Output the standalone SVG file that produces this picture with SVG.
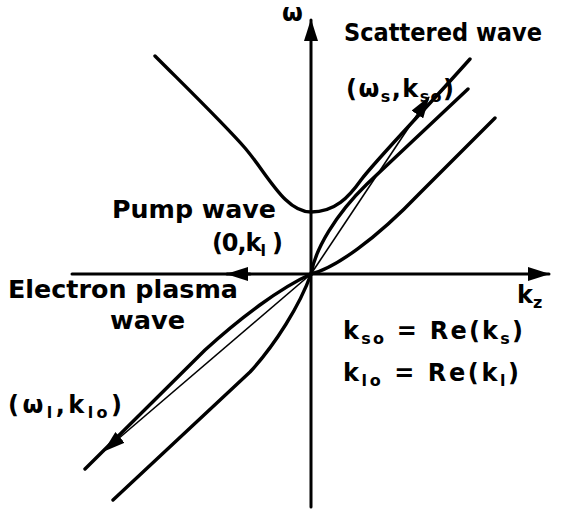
<svg xmlns="http://www.w3.org/2000/svg" width="570" height="510" viewBox="0 0 570 510">
<defs>
<style>
.ax{stroke:#000;stroke-width:3;fill:none;stroke-linecap:round}
.cv{stroke:#000;stroke-width:3.4;fill:none;stroke-linecap:round;stroke-linejoin:round}
.th{stroke:#000;stroke-width:1.6;fill:none}
text{font-family:"DejaVu Sans","Liberation Sans",Arial,sans-serif;font-weight:bold;fill:#000;font-size:24px}
.sub{font-size:16px}
</style>
<marker id="ah" viewBox="0 0 22 14" refX="21" refY="7" markerWidth="22" markerHeight="14" orient="auto" markerUnits="userSpaceOnUse">
<path d="M0,0 L22,7 L0,14 Z" fill="#000"/>
</marker>
</defs>
<rect width="570" height="510" fill="#fff"/>
<g id="axes">
<path class="ax" d="M311,507 L311,20" marker-end="url(#ah)"/>
<path class="ax" d="M72,274 L549,274" marker-end="url(#ah)"/>
</g>
<g id="curves">
<path id="scattered-wave" class="cv" d="M155,56 C190,91 225,125 245,148 C268,175 285,212 311,212 C335,212 349,197 361,180 C376,160 420,115 470,59"/>
<path id="branch-upper-1" class="cv" d="M311,274 C315,250 335,215 367,184 L468,89"/>
<path id="branch-upper-2" class="cv" d="M311,274 C335,268 375,240 420,193 L495,118"/>
<path id="branch-lower-A" class="cv" d="M311,274 C280,288 240,318 205,350 L85,469"/>
<path id="branch-lower-B" class="cv" d="M311,274 C300,305 275,345 250,372 L113,500"/>
</g>
<g id="connectors">
<path id="pump-arrow" class="ax" d="M250,274 L227,274" marker-end="url(#ah)"/>
<path id="vec-s" class="th" d="M311,274 L429,97" marker-end="url(#ah)"/>
<path id="vec-l" class="th" d="M311,274 L104,451" marker-end="url(#ah)"/>
</g>
<g id="labels">
<text x="282" y="21" font-size="23">ω</text>
<text x="344" y="41" textLength="198" lengthAdjust="spacingAndGlyphs">Scattered wave</text>
<text x="346" y="97" textLength="108">(ω<tspan class="sub" dy="5">s</tspan><tspan dy="-5">,k</tspan><tspan class="sub" dy="5">so</tspan><tspan dy="-5">)</tspan></text>
<text x="112" y="218" textLength="164" lengthAdjust="spacingAndGlyphs">Pump wave</text>
<text x="212" y="251" textLength="71">(0,k<tspan class="sub" dy="5">l</tspan><tspan dy="-5"> )</tspan></text>
<text x="8" y="298" textLength="230" lengthAdjust="spacingAndGlyphs">Electron plasma</text>
<text x="110" y="329" textLength="75" lengthAdjust="spacingAndGlyphs">wave</text>
<text x="8" y="413" textLength="114">(ω<tspan class="sub" dy="5">l</tspan><tspan dy="-5">,k</tspan><tspan class="sub" dy="5">lo</tspan><tspan dy="-5">)</tspan></text>
<text x="517" y="303">k<tspan class="sub" dy="5">z</tspan></text>
<text x="343" y="339" textLength="180">k<tspan class="sub" dy="5">so</tspan><tspan dy="-5"> = Re(k</tspan><tspan class="sub" dy="5">s</tspan><tspan dy="-5">)</tspan></text>
<text x="343" y="381" textLength="176">k<tspan class="sub" dy="5">lo</tspan><tspan dy="-5"> = Re(k</tspan><tspan class="sub" dy="5">l</tspan><tspan dy="-5">)</tspan></text>
</g>
</svg>
